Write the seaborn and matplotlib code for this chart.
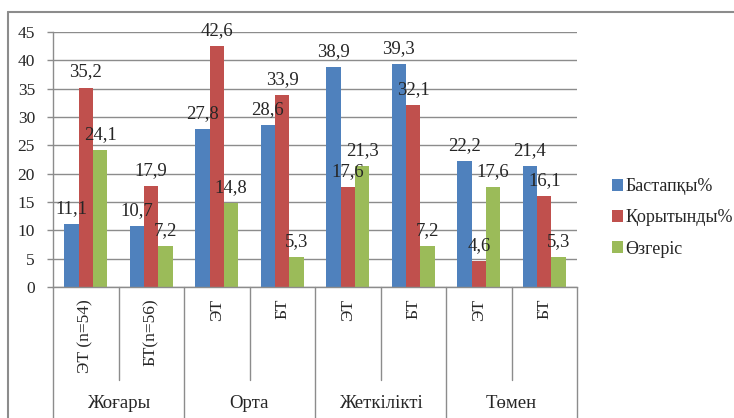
import numpy as np
import pandas as pd
import seaborn as sns
import matplotlib.pyplot as plt
from matplotlib.lines import Line2D

# data
groups = ["Жоғары", "Орта", "Жеткілікті", "Төмен"]
inner = ["ЭТ (n=54)", "БТ(n=56)", "ЭТ", "БТ", "ЭТ", "БТ", "ЭТ", "БТ"]
series = ["Бастапқы%", "Қорытынды%", "Өзгеріс"]
bastapky = [11.1, 10.7, 27.8, 28.6, 38.9, 39.3, 22.2, 21.4]
korytyndy = [35.2, 17.9, 42.6, 33.9, 17.6, 32.1, 4.6, 16.1]
ozgeris = [24.1, 7.2, 14.8, 5.3, 21.3, 7.2, 17.6, 5.3]
colors = ["#4F81BD", "#C0504D", "#9BBB59"]

keys = [f"{groups[i // 2]}|{lab}" for i, lab in enumerate(inner)]
rows = []
for s, vals in zip(series, [bastapky, korytyndy, ozgeris]):
    for k, v in zip(keys, vals):
        rows.append({"cat": k, "val": v, "series": s})
df = pd.DataFrame(rows)

sns.set_style("white")
plt.rcParams["font.family"] = ["Liberation Serif", "DejaVu Serif"]

W, H = 734, 418
fig = plt.figure(figsize=(W / 100, H / 100), dpi=100)
L, R, T, B = 53, 577, 32, 287
ax = fig.add_axes([L / W, 1 - B / H, (R - L) / W, (B - T) / H])

sns.barplot(data=df, x="cat", y="val", hue="series", order=keys, hue_order=series,
            palette=colors, width=0.66, saturation=1, linewidth=0, ax=ax)

for cont in ax.containers:
    labs = [f"{b.get_height():.1f}".replace(".", ",") for b in cont]
    ax.bar_label(cont, labels=labs, padding=5, fontsize=13.5)

ax.set_ylim(0, 45)
ax.set_yticks(np.arange(0, 46, 5))
ax.set_xlim(-0.5, len(keys) - 0.5)
ax.set_xlabel("")
ax.set_ylabel("")
ax.yaxis.grid(True, color="#8c8c8c", linewidth=1)
ax.set_axisbelow(True)
for sp in ["top", "right"]:
    ax.spines[sp].set_visible(False)
for sp in ["left", "bottom"]:
    ax.spines[sp].set_color("#8c8c8c")
    ax.spines[sp].set_linewidth(1)
ax.tick_params(axis="y", left=True, length=4, width=1, color="#8c8c8c",
               pad=9, labelsize=12.5)
ax.tick_params(axis="x", bottom=False, pad=5, labelsize=12.5)
ax.set_xticks(range(len(keys)))
ax.set_xticklabels(inner, rotation=90, va="top", ha="center")

# category separators and group labels under the axis
tr = ax.get_xaxis_transform()
for i in range(len(keys) + 1):
    y_end = -0.53 if i % 2 == 0 else -0.365
    ax.add_line(Line2D([i - 0.5, i - 0.5], [0, y_end], transform=tr,
                       color="#8c8c8c", lw=1, clip_on=False))
for g, name in enumerate(groups):
    ax.text(2 * g + 0.5, -0.458, name, transform=tr, ha="center", va="center",
            fontsize=13.5, clip_on=False)

ax.legend(loc="center left", bbox_to_anchor=(603 / W, 1 - 218 / H),
          bbox_transform=fig.transFigure, frameon=False, fontsize=13,
          handlelength=0.6, handleheight=0.6, handletextpad=0.15,
          labelspacing=0.78, borderpad=0)

# outer chart border (cut off at the right and bottom)
fig.add_artist(Line2D([8 / W, 8 / W], [0, 1 - 12 / H], transform=fig.transFigure,
                      color="#8c8c8c", lw=1.5))
fig.add_artist(Line2D([8 / W, 1], [1 - 12 / H, 1 - 12 / H], transform=fig.transFigure,
                      color="#8c8c8c", lw=1.5))

fig.savefig("out.png", dpi=100)
